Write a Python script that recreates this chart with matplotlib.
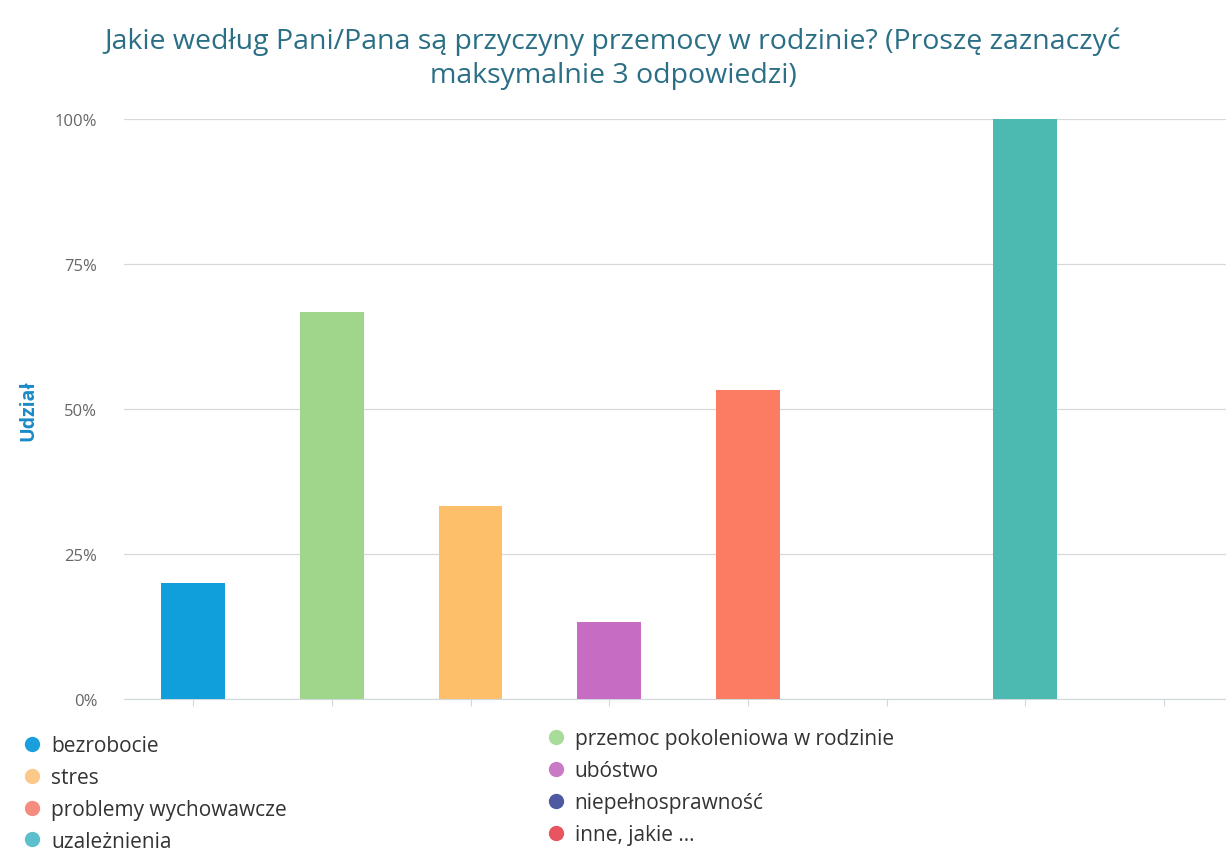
import matplotlib.pyplot as plt
from matplotlib.lines import Line2D
import numpy as np

# data (share of respondents, %)
categories = ["bezrobocie", "przemoc pokoleniowa w rodzinie", "stres", "ubóstwo",
              "problemy wychowawcze", "niepełnosprawność", "uzależnienia", "inne, jakie ..."]
values = [20.0, 66.7, 33.3, 13.3, 53.3, 0.0, 100.0, 0.0]
bar_colors = ["#119fdc", "#9fd68c", "#fdbf6a", "#c66cc2", "#fb7b63", "#4a5aa8", "#4dbab2", "#e65461"]
legend_colors = ["#1a9fdd", "#a8dc98", "#fcc98a", "#c97ac6", "#f48c80", "#4d5aa2", "#5cbfcc", "#e8545f"]
yticks = [0, 25, 50, 75, 100]

plt.rcParams['font.family'] = ['Open Sans', 'DejaVu Sans']

fig = plt.figure(figsize=(12.26, 8.53), dpi=100)
ax = fig.add_axes([0.101, 0.179, 0.905, 0.680])

x = np.arange(len(categories))
ax.bar(x, values, width=0.46, color=bar_colors, zorder=3)

ax.set_xlim(-0.5, len(categories) - 0.5)
ax.set_ylim(0, 100)
ax.set_yticks(yticks)
ax.set_yticklabels([f"{t}%" for t in yticks], color="#666666", fontsize=12)
ax.set_xticks(x)
ax.set_xticklabels([])
ax.tick_params(axis='y', length=0, pad=19)
ax.tick_params(axis='x', length=5, color="#cfd8dc", direction='out')
ax.grid(axis='y', color="#d8d8d8", linewidth=0.9, zorder=0)
ax.set_axisbelow(True)
for s in ["top", "right", "left"]:
    ax.spines[s].set_visible(False)
ax.spines["bottom"].set_color("#cfd8dc")

ax.set_ylabel("Udział", color="#1a8ac6", fontsize=14, fontweight="bold")
ax.yaxis.set_label_coords(-0.077, 0.5)

fig.suptitle("Jakie według Pani/Pana są przyczyny przemocy w rodzinie? (Proszę zaznaczyć\nmaksymalnie 3 odpowiedzi)",
             x=0.5, y=0.968, color="#2b6f86", fontsize=20.5, linespacing=1.3)

# legend in two columns, read row by row in the reference
left_idx = [0, 2, 4, 6]
right_idx = [1, 3, 5, 7]

def make_handles(idx):
    return [Line2D([], [], marker='o', linestyle='', markersize=10,
                   markerfacecolor=legend_colors[i], markeredgecolor=legend_colors[i]) for i in idx]

leg_kw = dict(frameon=False, fontsize=15, labelcolor="#333333", handletextpad=0.4,
              labelspacing=0.52, handlelength=1.0, borderaxespad=0, borderpad=0)
fig.legend(make_handles(left_idx), [categories[i] for i in left_idx], loc="upper left",
           bbox_to_anchor=(0.018, 0.137), **leg_kw)
fig.legend(make_handles(right_idx), [categories[i] for i in right_idx], loc="upper left",
           bbox_to_anchor=(0.445, 0.145), **leg_kw)

fig.savefig("out.png", dpi=100)
